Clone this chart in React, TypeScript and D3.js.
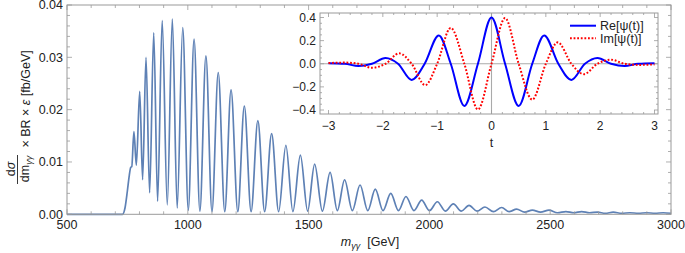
import React from 'react';
import * as d3 from 'd3';

// Main spectrum: extrema (GeV, fb/GeV)
const massGeV = [
  500, 730, 740, 750, 758, 764, 768, 777, 787, 801, 813, 827, 842, 859, 875, 894, 915, 936, 956, 979,
  1002, 1026, 1050, 1075, 1100, 1126, 1153, 1179, 1207, 1234, 1262, 1290, 1318, 1347, 1376, 1406, 1435,
  1466, 1496, 1525, 1557, 1589, 1619, 1649, 1681, 1713, 1745, 1776, 1808, 1840, 1872, 1903, 1936, 1968,
  2000, 2033, 2066, 2099, 2132, 2164, 2197, 2230, 2265, 2299, 2330, 2361, 2394, 2426, 2460, 2495, 2530,
  2565, 2598, 2630, 2663, 2696, 2728, 2761, 2796, 2830, 2865, 2899, 2934, 2968, 3000,
];
const xsec = [
  0, 0, 0.0012, 0.0045, 0.0075, 0.009, 0.0091, 0.0158, 0.0094, 0.0235, 0.0066, 0.03, 0.0041, 0.0347, 0.0025,
  0.037, 0.0018, 0.0373, 0.0012, 0.0357, 0.0008, 0.0335, 0.0006, 0.0303, 0.0005, 0.0271, 0.0005, 0.0238,
  0.0005, 0.0207, 0.0005, 0.0179, 0.0005, 0.0154, 0.0005, 0.0132, 0.0005, 0.0113, 0.0006, 0.0096, 0.0006,
  0.008, 0.0007, 0.0066, 0.0007, 0.0056, 0.0007, 0.0048, 0.0007, 0.004, 0.0007, 0.0034, 0.0007, 0.0027,
  0.0007, 0.0024, 0.0006, 0.002, 0.0006, 0.0017, 0.0006, 0.0014, 0.0005, 0.0013, 0.0005, 0.001, 0.0004,
  0.0008, 0.0004, 0.0008, 0.0003, 0.0005, 0.0003, 0.0005, 0.0003, 0.0004, 0.0002, 0.0004, 0.0002, 0.0003,
  0.0002, 0.0003, 0.0002, 0.0003, 0.0002,
];

// Inset wavelet: extrema and zero crossings
const tRe = [-3, -2.7, -2.45, -2.2, -1.95, -1.72, -1.47, -1.23, -0.97, -0.75, -0.5, -0.25, 0,
  0.25, 0.5, 0.75, 0.97, 1.23, 1.47, 1.72, 1.95, 2.2, 2.45, 2.7, 3];
const reVals = [0.005, 0, -0.02, 0, 0.05, 0, -0.14, 0, 0.245, 0, -0.365, 0, 0.4,
  0, -0.365, 0, 0.245, 0, -0.14, 0, 0.05, 0, -0.02, 0, 0.005];
const tIm = [-3, -2.7, -2.45, -2.2, -1.95, -1.7, -1.47, -1.22, -1.0, -0.75, -0.5, -0.25, 0,
  0.25, 0.5, 0.75, 1.0, 1.22, 1.47, 1.7, 1.95, 2.2, 2.45, 2.7, 3];
const imVals = [0.006, 0.01, 0, -0.035, 0, 0.09, 0, -0.185, 0, 0.31, 0, -0.395, 0,
  0.395, 0, -0.31, 0, 0.185, 0, -0.09, 0, 0.035, 0, -0.01, -0.006];

const xTicksMain = [500, 1000, 1500, 2000, 2500, 3000];
const yTicksMain = [0, 0.01, 0.02, 0.03, 0.04];
const insetXTicks = [-3, -2, -1, 0, 1, 2, 3];
const insetYTicks = [-0.4, -0.2, 0, 0.2, 0.4];

const FONT = "'Liberation Sans', Arial, sans-serif";
const FRAME = '#9a9a9a';
const TXT = '#222';

export default function App() {
  const W = 685, H = 253;
  const L = 67, R = 671, T = 5, B = 214.3;
  const x = d3.scaleLinear().domain([500, 3000]).range([L, R]);
  const y = d3.scaleLinear().domain([0, 0.04]).range([B, T]);

  const mainPts = massGeV.map((m, i) => [m, xsec[i]] as [number, number]);
  const mainLine = d3.line<[number, number]>()
    .x(d => x(d[0])).y(d => y(d[1])).curve(d3.curveMonotoneX);

  // inset
  const iL = 320, iR = 658, iT = 13, iB = 114;
  const ix = d3.scaleLinear().domain([-3, 3]).range([328.5, 654.5]);
  const iy = d3.scaleLinear().domain([-0.4, 0.4]).range([110, 17.5]);
  const inLine = d3.line<[number, number]>()
    .x(d => ix(d[0])).y(d => iy(d[1])).curve(d3.curveMonotoneX);
  const rePts = tRe.map((t, i) => [t, reVals[i]] as [number, number]);
  const imPts = tIm.map((t, i) => [t, imVals[i]] as [number, number]);

  const xMinor = d3.range(500, 3001, 100);
  const yMinor = d3.range(0, 0.04001, 0.002);
  const ixMinor = d3.range(-3, 3.001, 0.2);
  const iyMinor = d3.range(-0.4, 0.4001, 0.05);

  const fmtIn = (v: number) => (v < 0 ? '\u2212' : '') + Math.abs(v).toFixed(1);
  const fmtInX = (v: number) => (v < 0 ? '\u2212' : '') + Math.abs(v);

  return (
    <svg width={W} height={H} style={{ position: 'absolute', left: 0, top: 0, background: '#fff' }}
      fontFamily={FONT}>
      {/* main curve */}
      <path d={mainLine(mainPts) || ''} fill="none" stroke="#5E81B5" strokeWidth={1.7} />

      {/* main frame */}
      <rect x={L} y={T} width={R - L} height={B - T} fill="none" stroke={FRAME} strokeWidth={1} />
      {xMinor.map((v, i) => {
        const maj = v % 500 === 0;
        const len = maj ? 5 : 3;
        return (
          <g key={'xm' + i} stroke={FRAME} strokeWidth={0.8}>
            <line x1={x(v)} x2={x(v)} y1={B} y2={B - len} />
            <line x1={x(v)} x2={x(v)} y1={T} y2={T + len} />
          </g>
        );
      })}
      {yMinor.map((v, i) => {
        const maj = Math.abs(v / 0.01 - Math.round(v / 0.01)) < 1e-6;
        const len = maj ? 5 : 3;
        return (
          <g key={'ym' + i} stroke={FRAME} strokeWidth={0.8}>
            <line x1={L} x2={L + len} y1={y(v)} y2={y(v)} />
            <line x1={R} x2={R - len} y1={y(v)} y2={y(v)} />
          </g>
        );
      })}
      {xTicksMain.map(v => (
        <text key={'xl' + v} x={x(v)} y={228.5} textAnchor="middle" fontSize={12.5} fill={TXT}>{v}</text>
      ))}
      {yTicksMain.map(v => (
        <text key={'yl' + v} x={63} y={y(v)} dy="0.35em" textAnchor="end" fontSize={12.5} fill={TXT}>{v.toFixed(2)}</text>
      ))}

      {/* x axis label */}
      <text x={370} y={246} textAnchor="middle" fontSize={12.5} fill={TXT}>
        <tspan fontStyle="italic">m</tspan>
        <tspan fontStyle="italic" fontSize={9} dy={3}>γγ</tspan>
        <tspan dy={-3}>{'\u00a0\u00a0[GeV]'}</tspan>
      </text>

      {/* y axis label */}
      <g transform="translate(31,0) rotate(-90)" fill={TXT}>
        <text x={-169} y={-16.5} textAnchor="middle" fontSize={12.5}>
          d<tspan fontStyle="italic">σ</tspan>
        </text>
        <line x1={-184} x2={-155} y1={-13.5} y2={-13.5} stroke={TXT} strokeWidth={0.9} />
        <text x={-169} y={-2} textAnchor="middle" fontSize={12.5}>
          dm<tspan fontStyle="italic" fontSize={9} dy={3}>γγ</tspan>
        </text>
        <text x={-151} y={-1.5} fontSize={12.5}>
          {'\u00a0× BR × '}<tspan fontStyle="italic">ε</tspan>{' [fb/GeV]'}
        </text>
      </g>

      {/* inset */}
      <rect x={iL} y={iT} width={iR - iL} height={iB - iT} fill="#fff" stroke={FRAME} strokeWidth={1} />
      <line x1={iL} x2={iR} y1={iy(0)} y2={iy(0)} stroke="#aaa" strokeWidth={1.1} />
      <line x1={ix(0)} x2={ix(0)} y1={iT} y2={iB} stroke="#aaa" strokeWidth={1.1} />
      {ixMinor.map((v, i) => {
        const maj = Math.abs(v - Math.round(v)) < 1e-6;
        const len = maj ? 4 : 2;
        return (
          <g key={'ixm' + i} stroke={FRAME} strokeWidth={0.8}>
            <line x1={ix(v)} x2={ix(v)} y1={iB} y2={iB - len} />
            <line x1={ix(v)} x2={ix(v)} y1={iT} y2={iT + len} />
          </g>
        );
      })}
      {iyMinor.map((v, i) => {
        const maj = Math.abs(v / 0.2 - Math.round(v / 0.2)) < 1e-6;
        const len = maj ? 4 : 2;
        return (
          <g key={'iym' + i} stroke={FRAME} strokeWidth={0.8}>
            <line x1={iL} x2={iL + len} y1={iy(v)} y2={iy(v)} />
            <line x1={iR} x2={iR - len} y1={iy(v)} y2={iy(v)} />
          </g>
        );
      })}
      <path d={inLine(rePts) || ''} fill="none" stroke="#0000ff" strokeWidth={2} />
      <path d={inLine(imPts) || ''} fill="none" stroke="#ff0000" strokeWidth={2} strokeDasharray="1.8,1.8" />
      {insetXTicks.map(v => (
        <text key={'ixl' + v} x={ix(v)} y={129.5} textAnchor="middle" fontSize={12} fill={TXT}>{fmtInX(v)}</text>
      ))}
      {insetYTicks.map(v => (
        <text key={'iyl' + v} x={316} y={iy(v)} dy="0.35em" textAnchor="end" fontSize={12} fill={TXT}>{fmtIn(v)}</text>
      ))}
      <text x={ix(0)} y={147} textAnchor="middle" fontSize={12.5} fill={TXT}>t</text>

      {/* legend */}
      <line x1={570} x2={596} y1={25.7} y2={25.7} stroke="#0000ff" strokeWidth={2} />
      <line x1={570} x2={596} y1={38.3} y2={38.3} stroke="#ff0000" strokeWidth={2} strokeDasharray="1.8,1.8" />
      <text x={600} y={25.7} dy="0.35em" fontSize={12.5} fill={TXT}>Re[ψ(t)]</text>
      <text x={600} y={38.3} dy="0.35em" fontSize={12.5} fill={TXT}>Im[ψ(t)]</text>
    </svg>
  );
}
